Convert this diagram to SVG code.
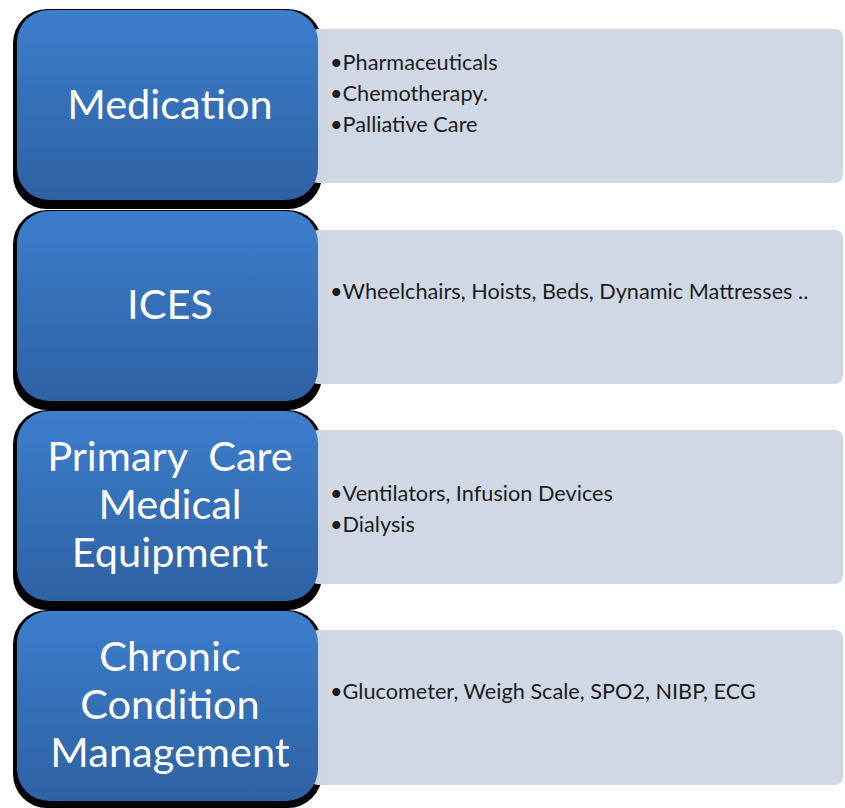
<svg xmlns="http://www.w3.org/2000/svg" width="845" height="808" viewBox="0 0 845 808">
<defs>
<linearGradient id="blueGrad" x1="0" y1="0" x2="0" y2="1">
<stop offset="0" stop-color="#3c7ecc"/>
<stop offset="1" stop-color="#2e61a3"/>
</linearGradient>
<linearGradient id="greyGrad" x1="0" y1="0" x2="1" y2="0">
<stop offset="0" stop-color="#c9d1df"/>
<stop offset="0.03" stop-color="#d1d8e5"/>
<stop offset="1" stop-color="#d1d8e5"/>
</linearGradient>
</defs>
<style>
.shadow{fill:#000000}
.blue{fill:url(#blueGrad)}
.grey{fill:url(#greyGrad)}
.label{font-family:Lato,"Liberation Sans",sans-serif;font-size:41.5px;fill:#ffffff;text-anchor:middle}
.item{font-family:Lato,"Liberation Sans",sans-serif;font-size:21.7px;fill:#1c1c1c}
</style>
<rect width="845" height="808" fill="#ffffff"/>
<g id="row-medication">
<rect class="shadow" x="13" y="9" width="309" height="200" rx="34"/>
<rect class="grey" x="310" y="29" width="533" height="154" rx="8"/>
<rect class="blue" x="17" y="10" width="301" height="190" rx="32"/>
<text class="label" x="170" y="119">Medication</text>
<text class="item" x="330" y="70">•Pharmaceuticals</text>
<text class="item" x="330" y="101">•Chemotherapy.</text>
<text class="item" x="330" y="132">•Palliative Care</text>
</g>
<g id="row-ices">
<rect class="shadow" x="13" y="210" width="309" height="200" rx="34"/>
<rect class="grey" x="310" y="230" width="533" height="154" rx="8"/>
<rect class="blue" x="17" y="211" width="301" height="190" rx="32"/>
<text class="label" x="170" y="319">ICES</text>
<text class="item" x="330" y="299">•Wheelchairs, Hoists, Beds, Dynamic Mattresses ..</text>
</g>
<g id="row-primary-care">
<rect class="shadow" x="13" y="410" width="309" height="200" rx="34"/>
<rect class="grey" x="310" y="430" width="533" height="154" rx="8"/>
<rect class="blue" x="17" y="411" width="301" height="190" rx="32"/>
<text class="label" x="170" y="471" xml:space="preserve">Primary  Care</text>
<text class="label" x="170" y="519">Medical</text>
<text class="label" x="170" y="567">Equipment</text>
<text class="item" x="330" y="501">•Ventilators, Infusion Devices</text>
<text class="item" x="330" y="532">•Dialysis</text>
</g>
<g id="row-chronic">
<rect class="shadow" x="13" y="610" width="309" height="198" rx="34"/>
<rect class="grey" x="310" y="630" width="533" height="155" rx="8"/>
<rect class="blue" x="17" y="611" width="301" height="190" rx="32"/>
<text class="label" x="170" y="671">Chronic</text>
<text class="label" x="170" y="719">Condition</text>
<text class="label" x="170" y="767">Management</text>
<text class="item" x="330" y="699">•Glucometer, Weigh Scale, SPO2, NIBP, ECG</text>
</g>
</svg>
